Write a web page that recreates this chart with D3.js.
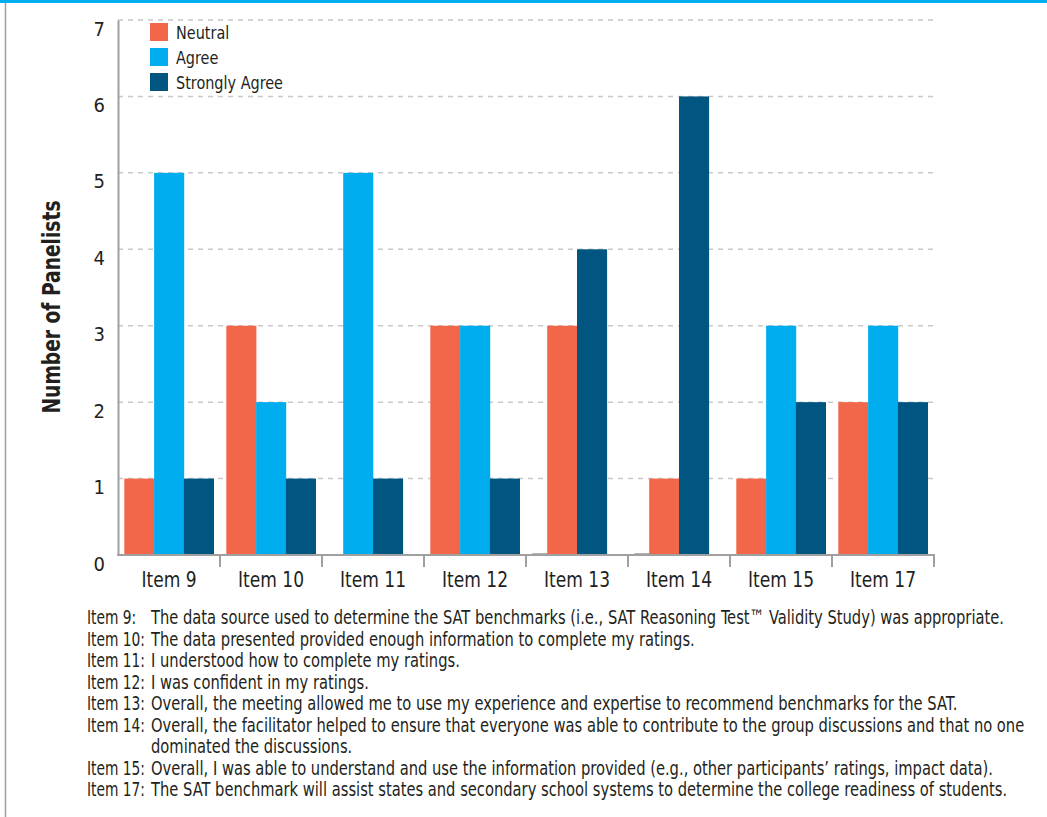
<!DOCTYPE html>
<html>
<head>
<meta charset="utf-8">
<script src="https://cdn.jsdelivr.net/npm/d3@7"></script>
<style>
  html, body { margin: 0; padding: 0; background: #fff; }
  svg { display: block; }
  text { font-family: "Liberation Sans Narrow", "DejaVu Sans Condensed", "Roboto Condensed", Roboto, "Liberation Sans", sans-serif; fill: #231f20; }
</style>
</head>
<body>
<svg id="chart" width="1047" height="817"></svg>
<script>
// ---- data ----
const categories = ["Item 9", "Item 10", "Item 11", "Item 12", "Item 13", "Item 14", "Item 15", "Item 17"];
const seriesNames = ["Neutral", "Agree", "Strongly Agree"];
const neutral = [1, 3, null, 3, 3, 1, 1, 2];
const agree = [5, 2, 5, 3, 0, 0, 3, 3];
const stronglyAgree = [1, 1, 1, 1, 4, 6, 2, 2];
const yTicks = [0, 1, 2, 3, 4, 5, 6, 7];
const yTitle = "Number of Panelists";
const noteLabels = ["Item 9:", "Item 10:", "Item 11:", "Item 12:", "Item 13:", "Item 14:", "", "Item 15:", "Item 17:"];
const noteTexts = [
  "The data source used to determine the SAT benchmarks (i.e., SAT Reasoning Test\u2122 Validity Study) was appropriate.",
  "The data presented provided enough information to complete my ratings.",
  "I understood how to complete my ratings.",
  "I was confident in my ratings.",
  "Overall, the meeting allowed me to use my experience and expertise to recommend benchmarks for the SAT.",
  "Overall, the facilitator helped to ensure that everyone was able to contribute to the group discussions and that no one",
  "dominated the discussions.",
  "Overall, I was able to understand and use the information provided (e.g., other participants\u2019 ratings, impact data).",
  "The SAT benchmark will assist states and secondary school systems to determine the college readiness of students."
];

const colors = ["#f2674a", "#00aeef", "#005581"];
const series = [neutral, agree, stronglyAgree];

// ---- layout ----
const svg = d3.select("#chart");
const plotL = 118, plotR = 934, plotT = 20, plotB = 555;
const barW = 29.8;

// frame
svg.append("rect").attr("x", 0).attr("y", 0).attr("width", 1047).attr("height", 3).attr("fill", "#00aeef");
svg.append("line").attr("x1", 5.5).attr("x2", 5.5).attr("y1", 3).attr("y2", 817).attr("stroke", "#a0a0a0").attr("stroke-width", 1.5);

const x = d3.scaleBand().domain(categories).range([plotL, plotR]);
const y = d3.scaleLinear().domain([0, 7]).range([plotB, plotT]);

// gridlines
svg.append("g").selectAll("line").data(yTicks.filter(t => t > 0)).join("line")
  .attr("x1", plotL).attr("x2", plotR + 1)
  .attr("y1", d => y(d)).attr("y2", d => y(d))
  .attr("stroke", "#c8c8c8").attr("stroke-width", 1.5).attr("stroke-dasharray", "5,5");

// y axis
const yAxis = svg.append("g").attr("transform", `translate(${plotL},0)`)
  .call(d3.axisLeft(y).tickValues(yTicks).tickSize(0).tickFormat(d3.format("d")));
yAxis.select(".domain").attr("stroke", "#a0a0a0").attr("stroke-width", 2);
yAxis.selectAll("text").attr("x", -13).attr("dy", 15).style("font-size", "20px").attr("fill", "#231f20")
  .attr("text-anchor", "end");

// bars
const barData = [];
const zeroData = [];
categories.forEach((c, i) => {
  const present = series.map((s, k) => ({ k, v: s[i] })).filter(d => d.v != null && d.v > 0);
  const cx = x(c) + x.bandwidth() / 2;
  const start = cx - present.length * barW / 2;
  present.forEach((d, j) => barData.push({ c, k: d.k, v: d.v, x: start + j * barW }));
  series.forEach((s, k) => { if (s[i] === 0) zeroData.push({ c, x: cx - 1.5 * barW }); });
});
svg.append("g").selectAll("rect").data(zeroData).join("rect")
  .attr("x", d => d.x).attr("width", barW).attr("y", y(0) - 1.5).attr("height", 1.5).attr("fill", "#6d6d6d");
svg.append("g").selectAll("rect").data(barData).join("rect")
  .attr("x", d => d.x).attr("width", barW + 0.3)
  .attr("y", d => y(d.v)).attr("height", d => y(0) - y(d.v))
  .attr("fill", d => colors[d.k]);

// x axis
svg.append("line").attr("x1", plotL - 1).attr("x2", plotR + 1).attr("y1", plotB).attr("y2", plotB)
  .attr("stroke", "#a0a0a0").attr("stroke-width", 2);
svg.append("g").selectAll("line").data(categories).join("line")
  .attr("x1", d => x(d) + x.bandwidth()).attr("x2", d => x(d) + x.bandwidth())
  .attr("y1", plotB).attr("y2", plotB + 12)
  .attr("stroke", "#a0a0a0").attr("stroke-width", 2);

function fitGroup(sel, refNode, target) {
  const nat = refNode.getComputedTextLength();
  const f = target / nat;
  sel.each(function () {
    const w = this.getComputedTextLength();
    if (w > 0) d3.select(this).attr("textLength", w * f).attr("lengthAdjust", "spacingAndGlyphs");
  });
  return f;
}

const xl = svg.append("g").selectAll("text").data(categories).join("text")
  .attr("x", d => x(d) + x.bandwidth() / 2).attr("y", 587)
  .attr("text-anchor", "middle").style("font-size", "22px").text(d => d);
fitGroup(xl, xl.nodes()[1], 66);

// y title
const yt = svg.append("text").attr("transform", "translate(60,307) rotate(-90)")
  .attr("text-anchor", "middle").style("font-size", "24px").style("font-weight", "bold").text(yTitle);
fitGroup(yt, yt.node(), 213);

// legend
const lg = svg.append("g");
seriesNames.forEach((n, k) => {
  lg.append("rect").attr("x", 150).attr("y", 23 + k * 25).attr("width", 18).attr("height", 18).attr("fill", colors[k]);
});
const lt = lg.selectAll("text").data(seriesNames).join("text")
  .attr("x", 176).attr("y", (d, k) => 39 + k * 25).style("font-size", "17px").text(d => d);
fitGroup(lt, lt.nodes()[2], 107);

// footnotes (baseline-anchored, slightly stretched vertically to match the condensed original face)
const noteY = (i) => 624 + i * 21.5;
const vStretch = 1.2;
const nl = svg.append("g").selectAll("text").data(noteLabels).join("text")
  .attr("x", 87).attr("y", 0)
  .attr("transform", (d, i) => `translate(0,${noteY(i)}) scale(1,${vStretch})`)
  .style("font-size", "17px").text(d => d);
const nt = svg.append("g").selectAll("text").data(noteTexts).join("text")
  .attr("x", 151).attr("y", 0)
  .attr("transform", (d, i) => `translate(0,${noteY(i)}) scale(1,${vStretch})`)
  .style("font-size", "17px").text(d => d);
const natNote = nt.nodes()[0].getComputedTextLength();
const noteSize = Math.min(17, 17 * 853 / natNote);
nt.style("font-size", noteSize + "px");
nl.style("font-size", noteSize + "px");
fitGroup(nt, nt.nodes()[0], 853);
fitGroup(nl, nl.nodes()[1], 58);
</script>
</body>
</html>
